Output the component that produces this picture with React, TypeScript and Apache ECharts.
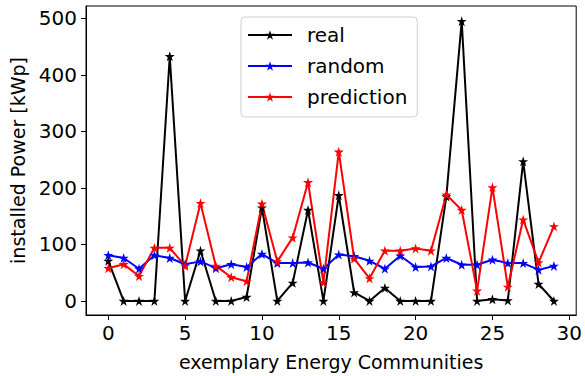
import React, { useEffect, useRef } from "react";
import * as echarts from "echarts";

const categories = Array.from({ length: 30 }, (_, i) => i);
const real = [71, 0, 0, 0, 433, 0, 89, 0, 0, 7, 165, 0, 32, 161, 0, 187, 15, 0, 23, 0, 0, 0, 185, 495, 0, 3, 1, 247, 30, 0];
const random = [81, 76, 57, 81, 76, 65, 70, 58, 65, 60, 83, 67, 67, 68, 57, 82, 79, 71, 57, 80, 60, 61, 76, 64, 64, 73, 67, 67, 55, 62];
const prediction = [58, 65, 44, 94, 94, 62, 173, 62, 42, 35, 172, 70, 112, 210, 33, 264, 75, 40, 89, 89, 93, 89, 188, 161, 18, 201, 25, 144, 68, 132];
const xTicks = [0, 5, 10, 15, 20, 25, 30];
const yTicks = [0, 100, 200, 300, 400, 500];

const STAR =
  "path://M50 0 L61.2 34.5 L97.6 34.5 L68.2 55.9 L79.4 90.5 L50 69.1 L20.6 90.5 L31.8 55.9 L2.4 34.5 L38.8 34.5 Z";

const FONT = "DejaVu Sans";

export default function App() {
  const ref = useRef<HTMLDivElement>(null);
  useEffect(() => {
    document.body.style.margin = "0";
    if (!ref.current) return;
    const chart = echarts.init(ref.current, undefined, { renderer: "svg" });
    const mk = (name: string, data: number[], color: string) => ({
      name,
      type: "line",
      data: categories.map((c, i) => [c, data[i]]),
      symbol: STAR,
      symbolSize: 10,
      lineStyle: { color, width: 2 },
      itemStyle: { color },
      z: 2,
    });
    chart.setOption({
      animation: false,
      textStyle: { fontFamily: FONT },
      grid: {
        left: 86,
        top: 6,
        width: 491,
        height: 312,
        show: true,
        borderColor: "#000",
        borderWidth: 1,
        backgroundColor: "transparent",
      },
      legend: {
        orient: "vertical",
        left: 241,
        top: 17,
        itemWidth: 44,
        itemHeight: 12,
        itemGap: 11,
        padding: [8, 10, 10, 6],
        borderColor: "#d0d0d0",
        borderWidth: 1,
        borderRadius: 4,
        backgroundColor: "rgba(255,255,255,0.8)",
        textStyle: { fontSize: 20, lineHeight: 20, color: "#000", fontFamily: FONT, padding: [0, 0, 0, 10] },
        data: ["real", "random", "prediction"],
      },
      xAxis: {
        type: "value",
        min: -1.45,
        max: 30.45,
        name: "exemplary Energy Communities",
        nameLocation: "middle",
        nameGap: 37,
        nameTextStyle: { fontSize: 19, color: "#000", fontFamily: FONT },
        axisLine: { show: true, onZero: false, lineStyle: { color: "#000" } },
        axisTick: { show: true, length: 5, lineStyle: { color: "#000" }, customValues: xTicks },
        axisLabel: { fontSize: 20, color: "#000", margin: 8, customValues: xTicks, fontFamily: FONT },
        splitLine: { show: false },
      },
      yAxis: {
        type: "value",
        min: -24.85,
        max: 521.85,
        name: "installed Power [kWp]",
        nameLocation: "middle",
        nameGap: 58,
        nameRotate: 90,
        nameTextStyle: { fontSize: 19, color: "#000", fontFamily: FONT },
        axisLine: { show: true, onZero: false, lineStyle: { color: "#000" } },
        axisTick: { show: true, length: 5, lineStyle: { color: "#000" }, customValues: yTicks },
        axisLabel: { fontSize: 20, color: "#000", margin: 9, customValues: yTicks, fontFamily: FONT },
        splitLine: { show: false },
      },
      series: [mk("real", real, "#000000"), mk("random", random, "#0000ff"), mk("prediction", prediction, "#ff0000")],
    });
    return () => chart.dispose();
  }, []);
  return <div ref={ref} style={{ width: 585, height: 376 }} />;
}
